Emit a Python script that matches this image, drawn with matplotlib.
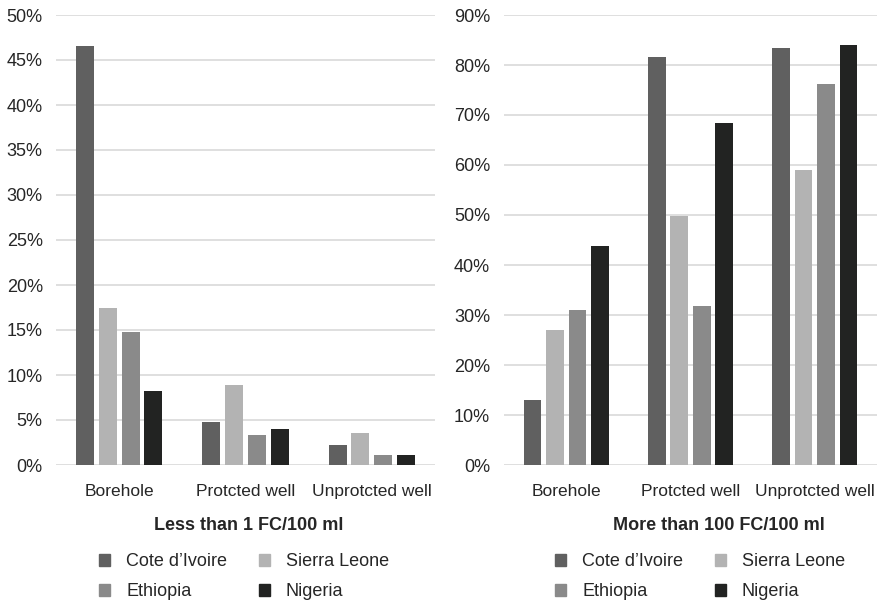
import matplotlib
matplotlib.use('Agg')
import matplotlib.pyplot as plt
import matplotlib.ticker as mticker
from matplotlib.patches import Patch
import numpy as np

plt.rcParams['font.family'] = ['Liberation Sans', 'DejaVu Sans']

CATEGORIES = ['Borehole', 'Protcted well', 'Unprotcted well']
COUNTRIES = ['Cote d\u2019Ivoire', 'Sierra Leone', 'Ethiopia', 'Nigeria']
COLORS = ['#606060', '#b3b3b3', '#8a8a8a', '#222322']

# share of samples, one list per country (Borehole, Protected, Unprotected)
less_than_1 = {
    'Cote d\u2019Ivoire': [46.6, 4.8, 2.2],
    'Sierra Leone': [17.5, 8.9, 3.6],
    'Ethiopia': [14.8, 3.3, 1.1],
    'Nigeria': [8.2, 4.0, 1.1],
}
more_than_100 = {
    'Cote d\u2019Ivoire': [13.1, 81.6, 83.4],
    'Sierra Leone': [27.0, 49.7, 59.1],
    'Ethiopia': [31.1, 31.8, 76.2],
    'Nigeria': [43.7, 68.4, 84.0],
}
TITLES = ['Less than 1 FC/100 ml', 'More than 100 FC/100 ml']

W, H = 879, 602
fig = plt.figure(figsize=(W / 100, H / 100), dpi=100)


def px(x0, y0, x1, y1):
    return [x0 / W, 1 - y1 / H, (x1 - x0) / W, (y1 - y0) / H]


def draw_panel(ax, data, ymax, step, ypad):
    x = np.arange(len(CATEGORIES))
    spacing = 0.181
    for i, name in enumerate(COUNTRIES):
        vals = np.array(data[name]) / 100
        ax.bar(x + (i - 1.5) * spacing, vals, width=0.142, color=COLORS[i],
               label=name, zorder=3)
    ax.set_xlim(-0.5, 2.5)
    ax.set_ylim(0, ymax)
    ax.yaxis.set_major_locator(mticker.MultipleLocator(step))
    ax.yaxis.set_major_formatter(mticker.PercentFormatter(1.0, decimals=0))
    ax.set_xticks(x)
    ax.set_xticklabels(CATEGORIES, fontsize=12.5, color='#262626')
    ax.tick_params(axis='x', length=0, pad=14)
    ax.tick_params(axis='y', length=0, pad=ypad, labelsize=13, labelcolor='#262626')
    ax.grid(axis='y', color='#d9d9d9', linewidth=1.2, zorder=0)
    for s in ax.spines.values():
        s.set_visible(False)


ax1 = fig.add_axes(px(56, 15, 435, 465))
draw_panel(ax1, less_than_1, 0.5, 0.05, 9.5)
ax2 = fig.add_axes(px(504, 15, 877, 465))
draw_panel(ax2, more_than_100, 0.9, 0.1, 10)

# titles and legends below each panel
handles = [Patch(color=c) for c in COLORS]
order = [0, 2, 1, 3]
for cx, lx, title in [(249, 244, TITLES[0]), (719, 700, TITLES[1])]:
    fig.text(cx / W, 1 - 525 / H, title, ha='center', va='center',
             fontsize=13, fontweight='bold', color='#262626')
    fig.legend([handles[i] for i in order], [COUNTRIES[i] for i in order],
               ncol=2, loc='center', bbox_to_anchor=(lx / W, 1 - 577 / H),
               frameon=False, fontsize=13, handlelength=0.6, handleheight=0.6,
               handletextpad=0.9, columnspacing=1.75, labelspacing=0.72,
               labelcolor='#262626')

fig.savefig('out.png', dpi=100)
